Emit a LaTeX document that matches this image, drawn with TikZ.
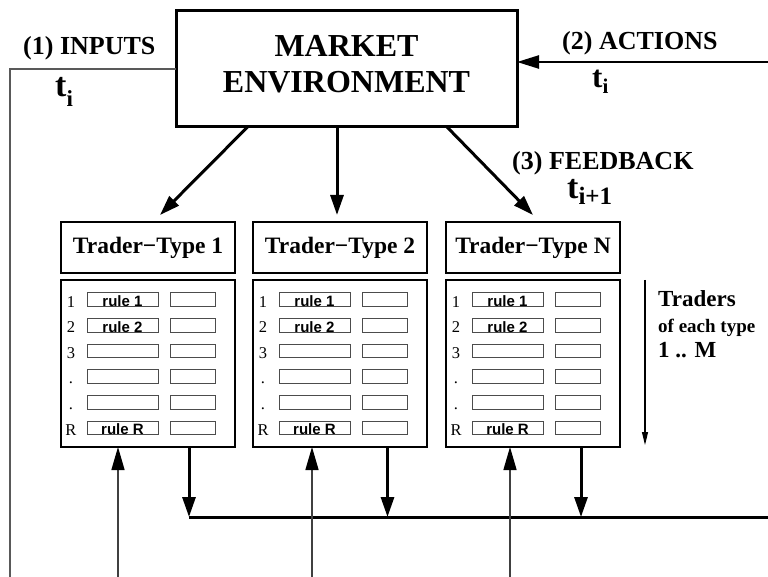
\documentclass[tikz,border=0pt]{standalone}
\usepackage{fontspec}
\setmainfont{Liberation Serif}
\setsansfont{Liberation Sans}
\usetikzlibrary{arrows.meta,positioning,calc}
\tikzstyle{env} = [rectangle, draw=black, line width=3pt, outer sep=0, inner sep=0, minimum width=341pt, minimum height=116pt]
\tikzstyle{head} = [rectangle, draw=black, line width=2.6pt, outer sep=0, inner sep=0, minimum width=174pt, minimum height=51pt, font=\fontsize{23.5}{24}\selectfont\bfseries]
\tikzstyle{panel} = [rectangle, draw=black, line width=2.6pt, outer sep=0, inner sep=0, minimum width=174pt, minimum height=167pt]
\tikzstyle{slot} = [rectangle, draw=black!70, line width=1pt, outer sep=0, inner sep=0, minimum height=13pt, anchor=west, text height=13.5pt, text depth=0pt, font=\fontsize{15}{15}\selectfont\sffamily\bfseries]
\tikzstyle{rowno} = [inner sep=0, anchor=base, font=\fontsize{16.5}{16.5}\selectfont]
\tikzstyle{lbl} = [inner sep=0, anchor=base west, font=\fontsize{26}{28}\selectfont\bfseries]
\tikzstyle{arrow} = [line width=3pt,-{Triangle[length=20pt,width=13pt]}]
\tikzstyle{thinarrow} = [line width=1.4pt,draw=black!75,-{Triangle[length=23pt,width=13pt,color=black]}]
\newcommand{\tvar}[4]{{\fontsize{#1}{#1}\selectfont t}\raisebox{-#3}{\fontsize{#2}{#2}\selectfont #4}}

\begin{document}
\begin{tikzpicture}[x=1pt,y=-1pt]
\useasboundingbox (0,0) rectangle (768,577);
\fill[white] (0,0) rectangle (768,577);

% market and trader types
\node[env] (market) at (346.5,69) {};
\node[align=center,font=\fontsize{32}{36}\selectfont\bfseries] (envtext) at ([yshift=5pt]market.center) {MARKET\\ENVIRONMENT};
\node[head] (type1) at (148,247.5) {Trader−Type 1};
\node[head,right=18pt of type1] (type2) {Trader−Type 2};
\node[head,right=19pt of type2] (typeN) {Trader−Type N};
\node[panel,below=7pt of type1] (rules1) {};
\node[panel,below=7pt of type2] (rules2) {};
\node[panel,below=7pt of typeN] (rulesN) {};

% rule tables
\foreach \p in {rules1,rules2,rulesN}{
  \foreach \k/\n/\r in {0/1/rule 1,1/2/rule 2,2/3/,3/./,4/./,5/R/rule R}{
    \node[rowno] (\p-n\k) at ($(\p.north west)+(10,27+25.65*\k)$) {\n};
    \node[slot,minimum width=71pt] (\p-r\k) at ($(\p.north west)+(26,19.7+25.65*\k)$) {\r};
    \node[slot,minimum width=45pt] (\p-v\k) at ($(\p.north west)+(109,19.7+25.65*\k)$) {};
  }
}

% labels
\node[lbl] (inputs) at (23,55) {(1) INPUTS};
\node[lbl] (actions) at (562,50) {(2) ACTIONS};
\node[lbl] (feedback) at (512,170) {(3) FEEDBACK};
\node[inner sep=0,anchor=base west,font=\bfseries] (tin) at (55,97) {\tvar{34}{23}{10pt}{i}};
\node[inner sep=0,anchor=base west,font=\bfseries] (tact) at (592,88) {\tvar{31}{21}{6pt}{i}};
\node[inner sep=0,anchor=base west,font=\bfseries] (tfb) at (567,199) {\tvar{34}{25}{6pt}{i+1}};
\node[inner sep=0,anchor=base west,font=\fontsize{23}{23}\selectfont\bfseries] (traders) at (658,306) {Traders};
\node[inner sep=0,anchor=base west,font=\fontsize{19}{19}\selectfont\bfseries] (eachtype) at (658,332) {of each type};
\node[inner sep=0,anchor=base west,font=\fontsize{23}{23}\selectfont\bfseries] (range) at (658,357) {1 .. M};

% inputs and actions
\coordinate (inend) at (10,577);
\coordinate (actend) at (768,62);
\draw[line width=1.8pt,black!65] (market.west) -| (inend);
\draw[line width=2.4pt,-{Triangle[length=22pt,width=13pt]}] (actend) -- (market.east |- actend);

% feedback
\draw[arrow] ([xshift=-99pt]market.south) -- ([xshift=12pt,yshift=7pt]type1.north);
\draw[arrow] ([xshift=-9.5pt]market.south) -- ([xshift=-3pt,yshift=7pt]type2.north);
\draw[arrow] ([xshift=100.5pt]market.south) -- ([yshift=7pt]typeN.north);

% traders axis
\coordinate (axtop) at (645,280);
\coordinate (axbot) at (645,445);
\draw[line width=1.1pt,-{Triangle[length=13pt,width=6pt]}] (axtop) -- (axbot);

% bus below the panels
\coordinate (bus) at (768,517);
\coordinate (d1) at ([xshift=41pt]rules1.south);
\coordinate (d2) at ([xshift=47.5pt]rules2.south);
\coordinate (dN) at ([xshift=48pt]rulesN.south);
\foreach \d in {d1,d2,dN}
  \draw[arrow] (\d) -- (\d |- bus);
\draw[line width=3pt] (d1 |- bus) -- (bus);

% inputs into the panels
\coordinate (u1) at (118,577);
\coordinate (u2) at (312,577);
\coordinate (uN) at (510,577);
\draw[thinarrow] (u1) -- (u1 |- rules1.south);
\draw[thinarrow] (u2) -- (u2 |- rules2.south);
\draw[thinarrow] (uN) -- (uN |- rulesN.south);
\end{tikzpicture}
\end{document}
